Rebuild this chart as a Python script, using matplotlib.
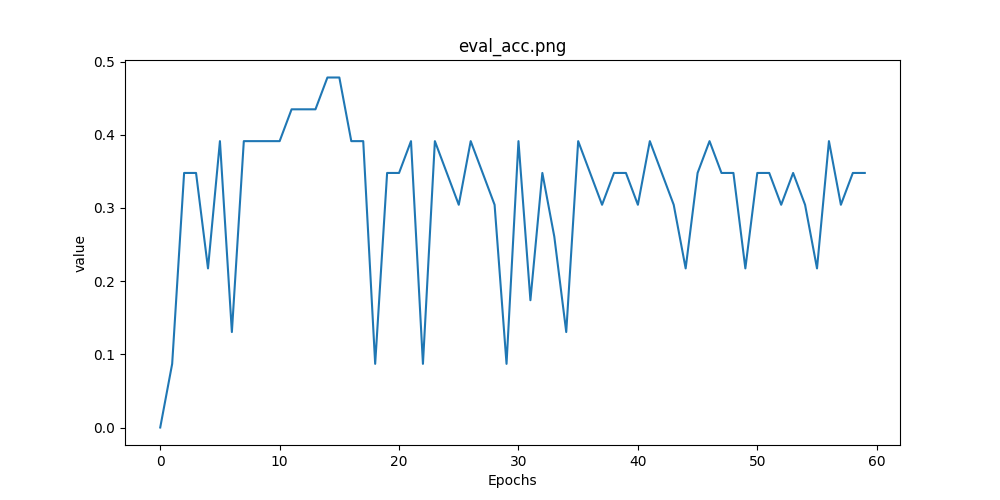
import matplotlib
matplotlib.use("Agg")
import matplotlib.pyplot as plt

epochs = list(range(60))
counts = [0,2,8,8,5,9,3,9,9,9,9,10,10,10,11,11,9,9,2,8,8,9,2,9,8,7,9,8,7,2,
          9,4,8,6,3,9,8,7,8,8,7,9,8,7,5,8,9,8,8,5,8,8,7,8,7,5,9,7,8,8]
values = [c/23 for c in counts]

fig, ax = plt.subplots(figsize=(10,5), dpi=100)
ax.plot(epochs, values, color="#1f77b4")
ax.set_title("eval_acc.png")
ax.set_xlabel("Epochs")
ax.set_ylabel("value")
fig.savefig("out.png")
